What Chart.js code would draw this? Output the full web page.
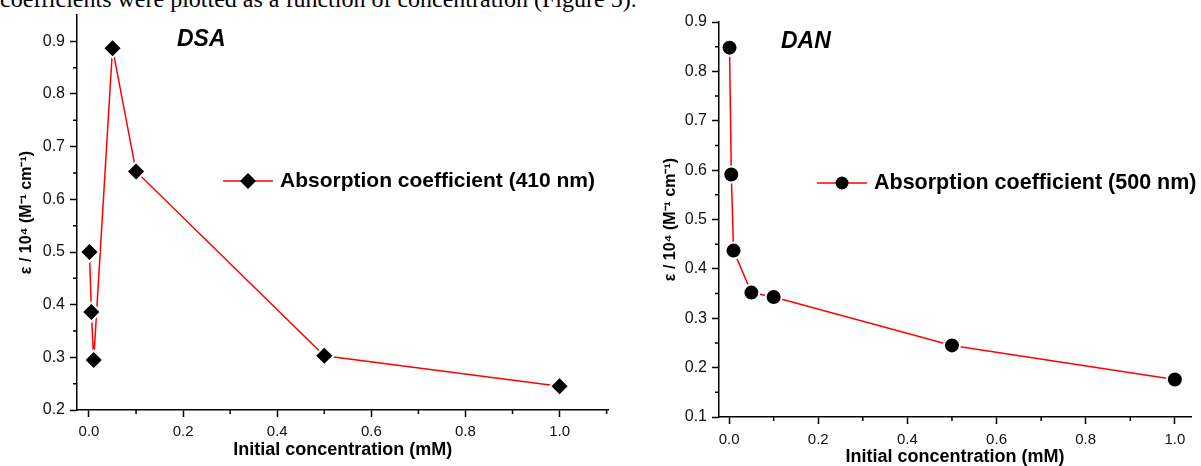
<!DOCTYPE html>
<html>
<head>
<meta charset="utf-8">
<script src="https://cdn.jsdelivr.net/npm/chart.js"></script>
<style>
    html, body { margin: 0; padding: 0; background: #fff; overflow: hidden; width: 1201px; height: 466px; }
    #caption { position: absolute; left: 0; top: -13px; font: 24px "Liberation Serif", "Times New Roman", serif; line-height: 24px; white-space: nowrap; color: #000; }
    #dsaChart { position: absolute; left: 0; top: 0; }
    #danChart { position: absolute; left: 620px; top: 0; }
</style>
</head>
<body>
<div id="caption">coefficients were plotted as a function of concentration (Figure 5).</div>
<canvas id="dsaChart" width="620" height="466"></canvas>
<canvas id="danChart" width="581" height="468"></canvas>
<script>
// data
const concDSA = [0.001, 0.005, 0.01, 0.05, 0.1, 0.5, 1.0];
const epsDSA = [0.5, 0.386, 0.295, 0.887, 0.653, 0.303, 0.245];
const concDAN = [0.001, 0.005, 0.01, 0.05, 0.1, 0.5, 1.0];
const epsDAN = [0.848, 0.591, 0.437, 0.352, 0.343, 0.245, 0.176];

const xTicks = [0, 0.2, 0.4, 0.6, 0.8, 1.0];
const xMinorDSA = [0.1, 0.3, 0.5, 0.7, 0.9, 1.1];
const xMinorDAN = [0.1, 0.3, 0.5, 0.7, 0.9];
const yTicksDSA = [0.2, 0.3, 0.4, 0.5, 0.6, 0.7, 0.8, 0.9];
const yMinorDSA = [0.25, 0.35, 0.45, 0.55, 0.65, 0.75, 0.85];
const yTicksDAN = [0.1, 0.2, 0.3, 0.4, 0.5, 0.6, 0.7, 0.8, 0.9];
const yMinorDAN = [0.15, 0.25, 0.35, 0.45, 0.55, 0.65, 0.75, 0.85];

const FONT = '"Liberation Sans", Arial, sans-serif';
const xTitle = 'Initial concentration (mM)';
const yTitle = 'ε / 10⁴ (M⁻¹ cm⁻¹)';

function toPoints(xs, ys) {
    return xs.map((x, i) => ({ x: x, y: ys[i] }));
}

function marker(ctx, style, x, y, r) {
    ctx.beginPath();
    if (style === 'rectRot') {
        ctx.moveTo(x, y - r);
        ctx.lineTo(x + r, y);
        ctx.lineTo(x, y + r);
        ctx.lineTo(x - r, y);
        ctx.closePath();
    } else {
        ctx.arc(x, y, r, 0, Math.PI * 2);
    }
    ctx.fillStyle = '#000';
    ctx.fill();
}

// minor ticks, panel name and the Origin-style legend
const decor = {
    id: 'decor',
    afterDraw(chart, args, o) {
        const ctx = chart.ctx;
        const xs = chart.scales.x;
        const ys = chart.scales.y;
        ctx.save();
        ctx.strokeStyle = '#000';
        ctx.lineWidth = 1.5;
        ctx.beginPath();
        o.xMinor.forEach(v => {
            const px = xs.getPixelForValue(v);
            ctx.moveTo(px, xs.top);
            ctx.lineTo(px, xs.top + 4);
        });
        o.yMinor.forEach(v => {
            const py = ys.getPixelForValue(v);
            ctx.moveTo(ys.right, py);
            ctx.lineTo(ys.right - 4, py);
        });
        ctx.stroke();

        ctx.fillStyle = '#000';
        ctx.textAlign = 'left';
        ctx.textBaseline = 'middle';
        ctx.font = 'italic bold 23px ' + FONT;
        ctx.fillText(o.name, o.nameX, o.nameY);

        const lg = o.legend;
        ctx.strokeStyle = '#ff0000';
        ctx.lineWidth = 1.5;
        ctx.beginPath();
        ctx.moveTo(lg.x, lg.y);
        ctx.lineTo(lg.x + 50, lg.y);
        ctx.stroke();
        marker(ctx, o.style, lg.x + 25, lg.y, o.style === 'rectRot' ? 8 : 6.5);
        ctx.fillStyle = '#000';
        ctx.font = 'bold ' + lg.size + 'px ' + FONT;
        ctx.fillText(lg.text, lg.x + 57, lg.y);
        ctx.restore();
    }
};

function makeChart(el, cfg) {
    return new Chart(el, {
        type: 'line',
        data: {
            datasets: [
                {
                    label: cfg.label,
                    data: cfg.points,
                    borderColor: '#ff0000',
                    borderWidth: 1.5,
                    tension: 0,
                    pointStyle: cfg.style,
                    pointRadius: cfg.radius,
                    pointBackgroundColor: '#000',
                    pointBorderColor: '#fff',
                    pointBorderWidth: 2,
                    clip: false,
                },
            ],
        },
        options: {
            responsive: false,
            animation: false,
            devicePixelRatio: 1,
            layout: { padding: cfg.padding },
            plugins: {
                legend: { display: false },
                tooltip: { enabled: false },
                decor: cfg.decor,
            },
            scales: {
                x: {
                    type: 'linear',
                    position: 'bottom',
                    min: cfg.xMin,
                    max: cfg.xMax,
                    afterBuildTicks: s => { s.ticks = xTicks.map(v => ({ value: v })); },
                    afterFit: s => { s.height = cfg.xHeight; },
                    border: { color: '#000', width: 1.5 },
                    grid: { drawOnChartArea: false, tickLength: 7, tickColor: '#000', tickWidth: 1.5 },
                    ticks: {
                        padding: cfg.xPad,
                        color: '#111',
                        font: { family: FONT, size: 15 },
                        maxRotation: 0,
                        callback: v => v.toFixed(1),
                    },
                    title: {
                        display: true,
                        text: xTitle,
                        color: '#000',
                        font: { family: FONT, size: 18, weight: 'bold' },
                        padding: { top: 0, bottom: cfg.xTitlePad },
                    },
                },
                y: {
                    min: cfg.yMin,
                    max: cfg.yMax,
                    afterBuildTicks: s => { s.ticks = cfg.yTicks.map(v => ({ value: v })); },
                    afterFit: s => { s.width = cfg.yWidth; },
                    border: { color: '#000', width: 1.5 },
                    grid: { drawOnChartArea: false, tickLength: 7, tickColor: '#000', tickWidth: 1.5 },
                    ticks: {
                        padding: 5,
                        color: '#111',
                        font: { family: FONT, size: 16 },
                        callback: v => v.toFixed(1),
                    },
                    title: {
                        display: true,
                        text: yTitle,
                        color: '#000',
                        font: { family: FONT, size: 16, weight: 'bold' },
                        padding: { top: cfg.yTitlePad, bottom: cfg.yTitlePad },
                    },
                },
            },
        },
        plugins: [decor],
    });
}

makeChart(document.getElementById('dsaChart'), {
    label: 'Absorption coefficient (410 nm)',
    points: toPoints(concDSA, epsDSA),
    style: 'rectRot',
    radius: 9.5,
    padding: { top: 15, right: 11, left: 0, bottom: 0 },
    xMin: -0.0255, xMax: 1.104, xHeight: 56, xPad: 6, xTitlePad: 5,
    yMin: 0.2, yMax: 0.95, yTicks: yTicksDSA, yWidth: 77, yTitlePad: 17,
    decor: {
        xMinor: xMinorDSA, yMinor: yMinorDSA, style: 'rectRot',
        name: 'DSA', nameX: 177, nameY: 40,
        legend: { x: 223, y: 181, size: 21, text: 'Absorption coefficient (410 nm)' },
    },
});

makeChart(document.getElementById('danChart'), {
    label: 'Absorption coefficient (500 nm)',
    points: toPoints(concDAN, epsDAN),
    style: 'circle',
    radius: 8,
    padding: { top: 22, right: 0, left: 0, bottom: 0 },
    xMin: -0.0226, xMax: 1.0362, xHeight: 51, xPad: 7, xTitlePad: 0,
    yMin: 0.1, yMax: 0.9, yTicks: yTicksDAN, yWidth: 99, yTitlePad: 41,
    decor: {
        xMinor: xMinorDAN, yMinor: yMinorDAN, style: 'circle',
        name: 'DAN', nameX: 161, nameY: 42,
        legend: { x: 197, y: 183, size: 21.5, text: 'Absorption coefficient (500 nm)' },
    },
});
</script>
</body>
</html>
